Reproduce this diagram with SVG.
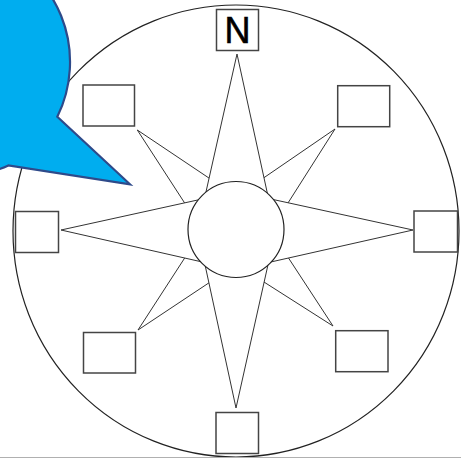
<svg xmlns="http://www.w3.org/2000/svg" width="461" height="462" viewBox="0 0 461 462">
  <style>
    .box { fill: #ffffff; stroke: #444444; stroke-width: 1.5; }
    .star { fill: #ffffff; stroke: #333333; stroke-width: 1; stroke-linejoin: miter; }
    .ring { fill: #ffffff; stroke: #222222; stroke-width: 1.2; }
    .label { font-family: "Liberation Sans", Arial, sans-serif; font-size: 36px; fill: #000000; stroke: #000000; stroke-width: 0.6; text-anchor: middle; }
  </style>
  <rect x="0" y="0" width="461" height="462" fill="#ffffff"/>
  <g id="outer-circle">
    <ellipse class="ring" cx="236" cy="231" rx="223" ry="226"/>
  </g>
  <g id="compass-rose">
    <polygon id="diagonal-star" class="star" points="137.3,130 236.5,196.5 335,129 270.5,230.5 333,326 236.5,264.5 138,330 202.5,230.5"/>
    <polygon id="main-star" class="star" points="237,54 268.5,198.5 413,230 268.5,262.5 236,408 204.5,262.5 61,230 204.5,198.5"/>
    <circle id="center-circle" class="ring" cx="236" cy="229.5" r="48"/>
  </g>
  <g id="box-n">
    <rect class="box" x="216.5" y="9.5" width="42" height="41"/>
    <text class="label" x="237.5" y="43">N</text>
  </g>
  <g id="box-ne"><rect class="box" x="337.7" y="85.7" width="52" height="41"/></g>
  <g id="box-e"><rect class="box" x="414" y="211" width="43.5" height="41"/></g>
  <g id="box-se"><rect class="box" x="335.7" y="330.7" width="52.3" height="41"/></g>
  <g id="box-s"><rect class="box" x="216" y="412.5" width="42.5" height="41"/></g>
  <g id="box-sw"><rect class="box" x="83.5" y="332.5" width="52" height="40.5"/></g>
  <g id="box-w"><rect class="box" x="15.5" y="211.5" width="43" height="41"/></g>
  <g id="box-nw"><rect class="box" x="83" y="85" width="51.5" height="41"/></g>
  <g id="speech-bubble">
    <path d="M 57.3,116.7 L 130,184.3 L 8.3,165.5 A 100 112 0 1 1 57.3,116.7 Z" fill="#00ADEF" stroke="#2E4A8A" stroke-width="2.2" stroke-linejoin="miter"/>
  </g>
  <g id="connectors"/>
  <line x1="0" y1="457.5" x2="461" y2="457.5" stroke="#b0b0b0" stroke-width="1"/>
</svg>
